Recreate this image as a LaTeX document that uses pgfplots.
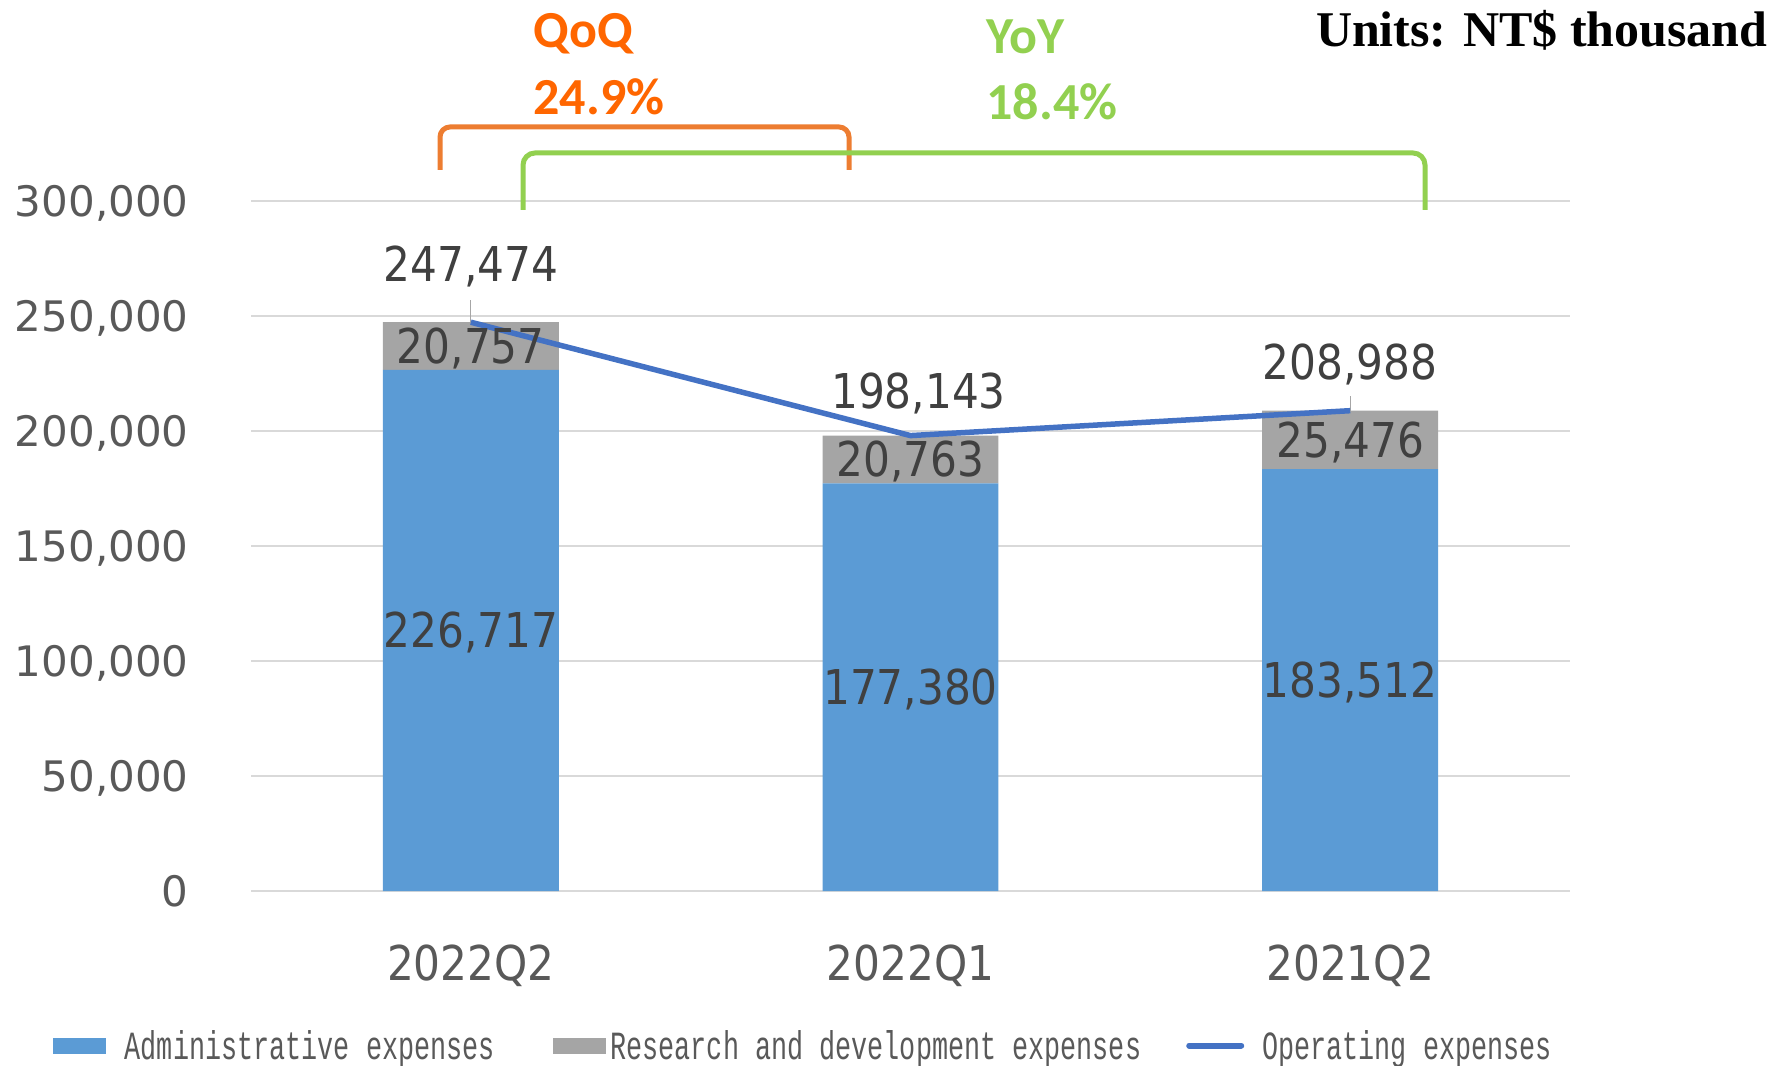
\documentclass[border=0pt]{standalone}
\usepackage{fontspec}
\usepackage{pgfplots}
\pgfplotsset{compat=1.18}
\usepackage{pgfplotstable}
\setmainfont{DejaVu Sans}
\newfontfamily\condfont{DejaVu Sans}[FakeStretch=0.88]
\newfontfamily\carlito{Carlito}
\newfontfamily\unitfont{Liberation Serif}
\newfontfamily\legfont{Liberation Mono}[FakeStretch=0.67]
\definecolor{cADM}{HTML}{5B9BD5}
\definecolor{cRD}{HTML}{A5A5A5}
\definecolor{cLINE}{HTML}{4472C4}
\definecolor{cGRID}{HTML}{D9D9D9}
\definecolor{c595959}{HTML}{595959}
\definecolor{c404040}{HTML}{404040}
\definecolor{cORtext}{HTML}{FF6600}
\definecolor{cORline}{HTML}{ED7D31}
\definecolor{cGR}{HTML}{92D050}
\definecolor{cLEAD}{HTML}{A6A6A6}

\pgfplotstableread{
x adm rd total dy dx
0 226717 20757 247474 29 0
1 177380 20763 198143 22.5 4
2 183512 25476 208988 24.3 0
}\data

\begin{document}
\begin{tikzpicture}
\useasboundingbox (0,0) rectangle (887.5pt,532.5pt);
\begin{axis}[
  at={(125.5pt,87pt)}, anchor=south west,
  scale only axis, width=659.5pt, height=344.75pt,
  xmin=-0.5, xmax=2.5, ymin=0, ymax=300000,
  ybar stacked, bar width=0.4,
  axis line style={draw=none}, major tick length=0pt,
  ytick={0,50000,100000,150000,200000,250000,300000},
  ymajorgrids, grid style={draw=cGRID, line width=1pt},
  xtick={0,1,2}, xticklabels={2022Q2,2022Q1,2021Q2},
  scaled y ticks=false,
  yticklabel style={/pgf/number format/fixed, /pgf/number format/precision=0,
    /pgf/number format/1000 sep={,}, /pgf/number format/assume math mode=true,
    font=\fontsize{21}{21}\selectfont, text=c595959, inner sep=0pt,
    anchor=base east, xshift=-31pt, yshift=-7.65pt},
  xticklabel style={font=\condfont\fontsize{24}{24}\selectfont, text=c595959,
    inner sep=0pt, anchor=base, yshift=-44.5pt},
]
\addplot[fill=cADM, draw=none] table[x=x,y=adm]{\data};
\addplot[fill=cRD, draw=none] table[x=x,y=rd]{\data};
\end{axis}

\begin{axis}[
  at={(125.5pt,87pt)}, anchor=south west,
  scale only axis, width=659.5pt, height=344.75pt,
  xmin=-0.5, xmax=2.5, ymin=0, ymax=300000,
  hide axis,
  legend columns=3,
  legend style={at={(axis description cs:-0.15011,-0.22407)}, anchor=west,
    draw=none, fill=none, inner sep=0pt, outer sep=0pt,
    font=\legfont\fontsize{20}{20}\selectfont, text=c595959,
    nodes={inner sep=0pt, text depth=0pt},
    /tikz/column 1/.style={column sep=9.5pt},
    /tikz/column 2/.style={column sep=29pt},
    /tikz/column 3/.style={column sep=2.5pt},
    /tikz/column 4/.style={column sep=22.5pt},
    /tikz/column 5/.style={column sep=9pt}},
  legend cell align=left,
]
\addlegendimage{legend image code/.code={\fill[cADM] (0pt,-3.75pt) rectangle (26pt,3.75pt);}}
\addlegendimage{legend image code/.code={\fill[cRD] (0pt,-3.75pt) rectangle (26pt,3.75pt);}}
\addlegendimage{legend image code/.code={\draw[cLINE, line width=3pt, line cap=round] (1pt,0pt) -- (27pt,0pt);}}
\draw[cLEAD, line width=0.6pt] (axis cs:0,247474) -- ++(0pt,11pt);
\draw[cLEAD, line width=0.6pt] (axis cs:2,208988) -- ++(0pt,7.5pt);
\addplot[cLINE, line width=2.75pt, mark=none,
  nodes near coords={\pgfmathprintnumber[fixed,precision=0,1000 sep={,},assume math mode=true]{\pgfplotspointmeta}},
  point meta=explicit,
  visualization depends on={\thisrow{dy} \as \dy},
  visualization depends on={\thisrow{dx} \as \dx},
  every node near coord/.append style={font=\condfont\fontsize{24}{24}\selectfont,
    text=c404040, inner sep=0pt, anchor=base, xshift={\dx*1pt}, yshift={(\dy-8.75)*1pt}}]
  table[x=x,y=total,meta=total]{\data};
\addplot[draw=none, mark=none,
  nodes near coords={\pgfmathprintnumber[fixed,precision=0,1000 sep={,},assume math mode=true]{\pgfplotspointmeta}},
  point meta=explicit,
  every node near coord/.append style={font=\condfont\fontsize{24}{24}\selectfont,
    text=c404040, inner sep=0pt, anchor=base, yshift=-8.75pt}]
  table[x=x, y expr=\thisrow{adm}/2, meta=adm]{\data};
\addplot[draw=none, mark=none,
  nodes near coords={\pgfmathprintnumber[fixed,precision=0,1000 sep={,},assume math mode=true]{\pgfplotspointmeta}},
  point meta=explicit,
  every node near coord/.append style={font=\condfont\fontsize{24}{24}\selectfont,
    text=c404040, inner sep=0pt, anchor=base, yshift=-8.75pt}]
  table[x=x, y expr=\thisrow{adm}+\thisrow{rd}/2, meta=rd]{\data};
\legend{Administrative expenses,Research and development expenses,Operating expenses}
\end{axis}

\draw[cORline, line width=2.5pt, rounded corners=5pt]
  (220pt,447.5pt) -- (220pt,469pt) -- (424.5pt,469pt) -- (424.5pt,447.5pt);
\draw[cGR, line width=2.5pt, rounded corners=6pt]
  (261.5pt,427.5pt) -- (261.5pt,456pt) -- (712.5pt,456pt) -- (712.5pt,427.5pt);
\node[anchor=base west, inner sep=0pt, text=cORtext, font=\carlito\bfseries\fontsize{26}{26}\selectfont] at (266.5pt,508.5pt) {QoQ};
\node[anchor=base west, inner sep=0pt, text=cORtext, font=\carlito\bfseries\fontsize{26}{26}\selectfont] at (266.5pt,475pt) {24.9\%};
\node[anchor=base west, inner sep=0pt, text=cGR, font=\carlito\bfseries\fontsize{26}{26}\selectfont] at (493pt,505.5pt) {YoY};
\node[anchor=base west, inner sep=0pt, text=cGR, font=\carlito\bfseries\fontsize{26}{26}\selectfont] at (493pt,472.5pt) {18.4\%};
\node[anchor=base east, inner sep=0pt, text=black, font=\unitfont\bfseries\fontsize{25}{25}\selectfont] at (884pt,509pt) {Units: NT\$ thousand};
\end{tikzpicture}
\end{document}
